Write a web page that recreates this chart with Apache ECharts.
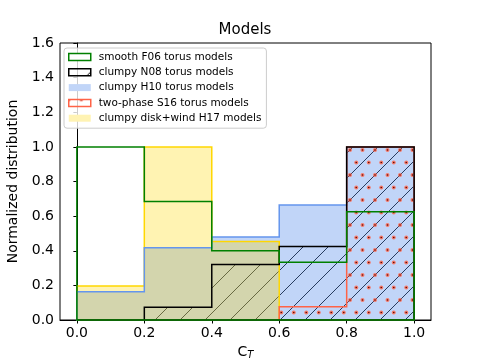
<!DOCTYPE html>
<html><head><meta charset="utf-8">
<script src="https://cdn.jsdelivr.net/npm/echarts@6/dist/echarts.min.js"></script>
<style>html,body{margin:0;padding:0;background:#fff}#c{width:479px;height:360px}</style>
</head><body><div id="c"></div>
<script>
// ---- data ----
const binEdges = [0.0, 0.2, 0.4, 0.6, 0.8, 1.0];
const xTicks = [0.0, 0.2, 0.4, 0.6, 0.8, 1.0];
const yTicks = [0.0, 0.2, 0.4, 0.6, 0.8, 1.0, 1.2, 1.4, 1.6];
const seriesNames = ['smooth F06 torus models', 'clumpy N08 torus models', 'clumpy H10 torus models', 'two-phase S16 torus models', 'clumpy disk+wind H17 models'];
const f06 = [1.0, 0.685, 0.40, 0.333, 0.625];
const n08 = [0.0, 0.073, 0.32, 0.424, 1.0];
const h10 = [0.163, 0.418, 0.48, 0.664, 1.0];
const s16 = [0.0, 0.0, 0.0, 0.077, 1.0];
const h17 = [0.197, 1.0, 0.453, 0.0, 0.0];

// ---- patterns ----
function hatchCanvas(){
  const c=document.createElement('canvas'); c.width=25; c.height=25;
  const g=c.getContext('2d'); g.strokeStyle='#000'; g.lineWidth=1;
  for (const k of [0,25,50]) { g.beginPath(); g.moveTo(-2,k+2); g.lineTo(k+2,-2); g.stroke(); }
  return c;
}
function dotCanvas(){
  const c=document.createElement('canvas'); c.width=25; c.height=25;
  const g=c.getContext('2d');
  const pts=[[0,0],[12.5,0],[25,0],[0,25],[12.5,25],[25,25],[6.25,12.5],[18.75,12.5]];
  for (const [x,y] of pts){
    g.fillStyle='rgba(250,110,90,0.9)'; g.beginPath(); g.arc(x,y,2.0,0,Math.PI*2); g.fill();
    g.fillStyle='#5a1008'; g.beginPath(); g.arc(x,y,0.8,0,Math.PI*2); g.fill();
  }
  return c;
}
const hatchPat = {image: hatchCanvas(), repeat:'repeat'};
const dotPat = {image: dotCanvas(), repeat:'repeat'};

function stepPoints(vals, api){
  const pts=[api.coord([binEdges[0],0])];
  for(let i=0;i<vals.length;i++){
    pts.push(api.coord([binEdges[i],vals[i]]));
    pts.push(api.coord([binEdges[i+1],vals[i]]));
  }
  pts.push(api.coord([binEdges[binEdges.length-1],0]));
  return pts;
}
function mk(name, vals, fill, fillZ, stroke, strokeZ){
  return {
    type:'custom', name:name, coordinateSystem:'cartesian2d',
    data:[[0,0]], silent:true,
    renderItem:function(params, api){
      const pts = stepPoints(vals, api);
      const children=[];
      if (fill) children.push({type:'polygon', z2:fillZ, shape:{points:pts}, style:{fill:fill, stroke:null}});
      children.push({type:'polygon', z2:strokeZ, shape:{points:pts}, style:{fill:null, stroke:stroke, lineWidth:1.5, lineJoin:'miter'}});
      return {type:'group', children:children};
    }
  };
}

const FONT='DejaVu Sans';
const chart = echarts.init(document.getElementById('c'), null, {renderer:'canvas'});
chart.setOption({
  animation:false,
  backgroundColor:'#fff',
  title:{text:'Models', left:245, top:23, textAlign:'center', padding:0,
    textStyle:{fontFamily:FONT, fontSize:15, fontWeight:'normal', color:'#000'}},
  grid:{left:60, right:48, top:43, bottom:40, containLabel:false, outerBoundsMode:'none',
    show:true, borderColor:'#000', borderWidth:1, backgroundColor:'transparent'},
  legend:{
    orient:'vertical', left:64, top:48, padding:[3,5,4,4],
    itemWidth:22, itemHeight:7, itemGap:3.3,
    borderColor:'#cccccc', borderWidth:1, borderRadius:3, backgroundColor:'rgba(255,255,255,0.8)',
    textStyle:{fontFamily:FONT, fontSize:10.5, color:'#000', lineHeight:12, padding:[0,0,0,3]},
    selectedMode:false,
    data:[
      {name:seriesNames[0], icon:'rect', itemStyle:{color:'#ffffff', borderColor:'#008000', borderWidth:1.5}},
      {name:seriesNames[1], icon:'rect', itemStyle:{color:hatchPat, borderColor:'#000000', borderWidth:1.5}},
      {name:seriesNames[2], icon:'rect', itemStyle:{color:'#c1d5f8', borderWidth:0}},
      {name:seriesNames[3], icon:'rect', itemStyle:{color:dotPat, borderColor:'#ff6347', borderWidth:1.5}},
      {name:seriesNames[4], icon:'rect', itemStyle:{color:'#fff3b3', borderWidth:0}}
    ]
  },
  xAxis:{type:'value', min:-0.05, max:1.05,
    name:'C{s|T}', nameLocation:'middle', nameGap:20,
    nameTextStyle:{fontFamily:FONT, fontSize:14, color:'#000', rich:{s:{fontFamily:FONT, fontSize:10, fontStyle:'italic', color:'#000', padding:[7,0,0,0]}}},
    axisLine:{show:true, lineStyle:{color:'#000', width:1}},
    axisTick:{show:true, inside:false, length:3.5, lineStyle:{color:'#000'}, customValues:xTicks},
    axisLabel:{fontFamily:FONT, fontSize:14, color:'#000', margin:6, customValues:xTicks, formatter:v=>v.toFixed(1)},
    splitLine:{show:false}},
  yAxis:{type:'value', min:0, max:1.6, interval:0.2,
    name:'Normalized distribution', nameLocation:'middle', nameGap:32,
    nameTextStyle:{fontFamily:FONT, fontSize:14, color:'#000'},
    axisLine:{show:true, lineStyle:{color:'#000', width:1}},
    axisTick:{show:true, inside:false, length:3.5, lineStyle:{color:'#000'}, customValues:yTicks},
    axisLabel:{fontFamily:FONT, fontSize:14, color:'#000', margin:6, customValues:yTicks, formatter:v=>v.toFixed(1)},
    splitLine:{show:false}},
  series:[
    mk(seriesNames[1], n08, hatchPat, 1, '#000000', 8),
    mk(seriesNames[2], h10, 'rgba(100,149,237,0.4)', 2, '#6495ed', 6),
    mk(seriesNames[3], s16, dotPat, 3, '#ff6347', 7),
    mk(seriesNames[4], h17, 'rgba(255,215,0,0.3)', 4, '#ffd700', 5),
    mk(seriesNames[0], f06, null, 0, '#008000', 9)
  ]
});
</script>
</body></html>
